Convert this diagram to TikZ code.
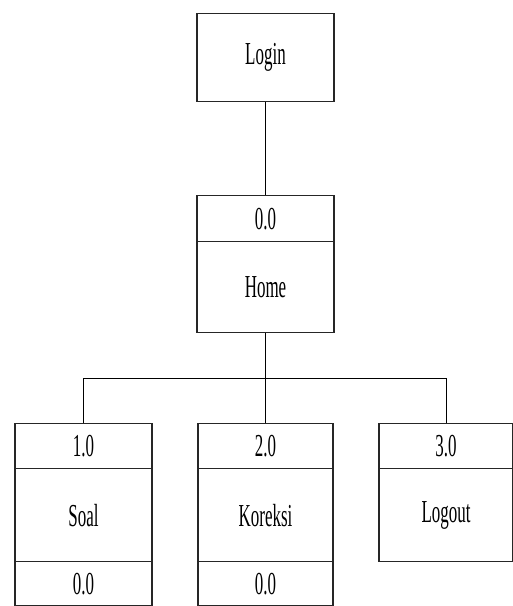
\documentclass[tikz,border=0pt]{standalone}
\usepackage{fontspec}
\setmainfont{Liberation Serif}[FakeStretch=0.53]
\begin{document}
\begin{tikzpicture}[x=1pt,y=-1pt,
  cell/.style={draw=black!85,line width=1.3pt,rectangle,inner sep=0pt,
    minimum width=137pt,font=\fontsize{32}{32}\selectfont,anchor=north},
  idcell/.style={cell,minimum height=46pt},
  maincell/.style={cell,minimum height=92pt},
  link/.style={draw=black,line width=1pt}]
\useasboundingbox (0,0) rectangle (513,606);

% top level
\node[cell,minimum height=88pt] (login) at (265.5,13) {Login};

% home
\node[idcell] (homeid) at (265.5,195) {0.0};
\node[maincell,minimum height=91pt] (home) at (265.5,241) {Home};

% children
\node[idcell,minimum height=45pt] (soalid) at (83.5,423) {1.0};
\node[maincell,minimum height=93pt] (soal) at (83.5,468) {Soal};
\node[idcell,minimum height=44pt] (soalref) at (83.5,561) {0.0};

\node[idcell,minimum height=45pt,minimum width=135pt] (korid) at (265.5,423) {2.0};
\node[maincell,minimum height=93pt,minimum width=135pt] (kor) at (265.5,468) {Koreksi};
\node[idcell,minimum height=44pt,minimum width=135pt] (korref) at (265.5,561) {0.0};

\node[idcell,minimum height=45pt,minimum width=134pt] (outid) at (446,423) {3.0};
\node[maincell,minimum height=93pt,minimum width=134pt] (out) at (446,468) {Logout};

% connectors
\coordinate (bus) at (265.5,378);
\draw[link] (login.south) -- (homeid.north);
\draw[link] (home.south) -- (bus);
\draw[link] (bus) -- (bus -| soalid.north) -- (soalid.north);
\draw[link] (bus) -- (korid.north);
\draw[link] (bus) -- (bus -| outid.north) -- (outid.north);
\end{tikzpicture}
\end{document}
